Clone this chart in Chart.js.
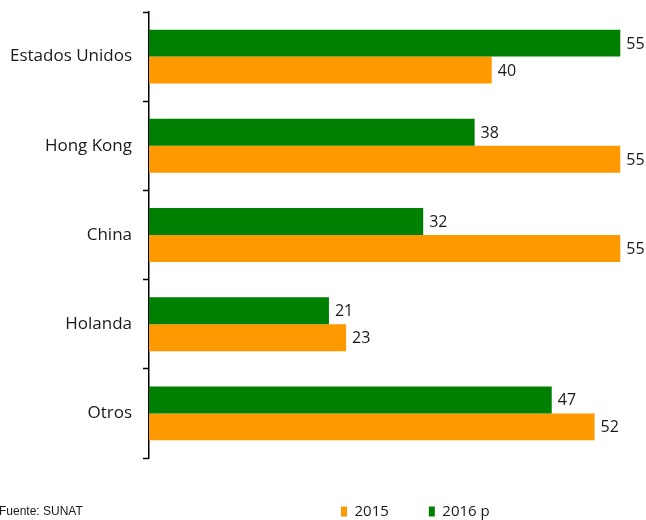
<!DOCTYPE html>
<html>
<head>
<meta charset="utf-8">
<script src="https://cdn.jsdelivr.net/npm/chart.js@4.4.0/dist/chart.umd.min.js"></script>
<style>
  html, body { margin: 0; padding: 0; background: #ffffff; }
  #wrap { width: 646px; height: 520px; }
</style>
</head>
<body>
<div id="wrap"><canvas id="c" width="646" height="520"></canvas></div>
<script>
const categories = ["Estados Unidos", "Hong Kong", "China", "Holanda", "Otros"];
const values2016p = [55, 38, 32, 21, 47];
const values2015 = [40, 55, 55, 23, 52];
const seriesNames = ["2016 p", "2015"];
const sourceNote = "Fuente: SUNAT";

const FONT = "'Open Sans', 'Noto Sans', sans-serif";

const valueLabels = {
  id: 'valueLabels',
  afterDatasetsDraw(chart) {
    const ctx = chart.ctx;
    ctx.save();
    ctx.font = "16px " + FONT;
    ctx.fillStyle = "#1a1a1a";
    ctx.textBaseline = "middle";
    ctx.textAlign = "left";
    chart.data.datasets.forEach((ds, di) => {
      const meta = chart.getDatasetMeta(di);
      meta.data.forEach((el, i) => {
        ctx.fillText(String(ds.data[i]), el.x + 6, el.y + 1);
      });
    });
    ctx.restore();
  }
};

const notePlugin = {
  id: 'notePlugin',
  afterLayout(chart) {
    if (chart.legend) {
      chart.legend.left = 301;
      chart.legend.top = 464;
    }
  },
  afterDraw(chart) {
    const ctx = chart.ctx;
    ctx.save();
    ctx.font = "12px 'Liberation Sans', Arial, sans-serif";
    ctx.fillStyle = "#1a1a1a";
    ctx.textBaseline = "middle";
    ctx.textAlign = "left";
    ctx.fillText(sourceNote, -1, 512);
    ctx.restore();
  }
};

new Chart(document.getElementById('c'), {
  type: 'bar',
  data: {
    labels: categories,
    datasets: [
      { label: seriesNames[0], data: values2016p, backgroundColor: '#008000', borderWidth: 0 },
      { label: seriesNames[1], data: values2015, backgroundColor: '#FF9900', borderWidth: 0 }
    ]
  },
  options: {
    indexAxis: 'y',
    responsive: false,
    animation: false,
    events: [],
    layout: { padding: { top: 12, right: 0, left: 0, bottom: -3 } },
    categoryPercentage: 0.604,
    barPercentage: 1.0,
    scales: {
      x: {
        display: false,
        min: 0,
        max: 58
      },
      y: {
        afterFit(scale) {
          scale.width = 149;
          scale.paddingTop = 0;
          scale.paddingBottom = 0;
        },
        grid: {
          offset: true,
          drawOnChartArea: false,
          drawTicks: true,
          tickLength: 6,
          tickWidth: 1.5,
          tickColor: '#000000'
        },
        border: { display: true, color: '#000000', width: 1.5 },
        ticks: {
          padding: 11,
          color: '#1a1a1a',
          font: { family: FONT, size: 17 }
        }
      }
    },
    plugins: {
      legend: {
        display: true,
        position: 'bottom',
        align: 'start',
        reverse: true,
        labels: {
          boxWidth: 6,
          boxHeight: 10,
          padding: 40,
          color: '#1a1a1a',
          font: { family: FONT, size: 15 }
        }
      },
      tooltip: { enabled: false },
      title: { display: false }
    }
  },
  plugins: [valueLabels, notePlugin]
});
</script>
</body>
</html>
